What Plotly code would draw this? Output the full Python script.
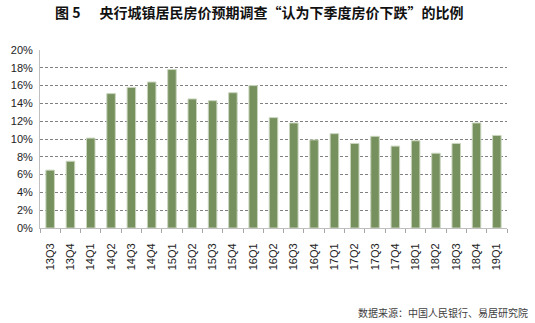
import plotly.graph_objects as go

quarters = ["13Q3", "13Q4", "14Q1", "14Q2", "14Q3", "14Q4", "15Q1", "15Q2",
            "15Q3", "15Q4", "16Q1", "16Q2", "16Q3", "16Q4", "17Q1", "17Q2",
            "17Q3", "17Q4", "18Q1", "18Q2", "18Q3", "18Q4", "19Q1"]
share_expect_fall = [6.5, 7.5, 10.1, 15.1, 15.8, 16.4, 17.8, 14.5,
                     14.3, 15.2, 16.0, 12.4, 11.8, 9.9, 10.6, 9.5,
                     10.3, 9.2, 9.8, 8.4, 9.5, 11.8, 10.4]
y_ticks = list(range(0, 21, 2))

title_text = "图 5      央行城镇居民房价预期调查“认为下季度房价下跌”的比例"
source_text = "数据来源：中国人民银行、易居研究院"

fig = go.Figure(
    go.Bar(
        x=quarters,
        y=share_expect_fall,
        marker=dict(color="#76905E", line=dict(color="#C9D5BD", width=1)),
    )
)

fig.update_layout(
    width=535,
    height=323,
    autosize=False,
    margin=dict(l=40, r=28, t=50, b=95),
    paper_bgcolor="white",
    plot_bgcolor="white",
    bargap=0.58,
    showlegend=False,
    font=dict(family="Liberation Sans, Arial", size=11, color="#222222"),
    annotations=[
        dict(
            text="<b>" + title_text + "</b>",
            xref="paper", yref="paper", x=0.47, y=1.0, yshift=38,
            xanchor="center", yanchor="middle", showarrow=False,
            font=dict(family="Noto Sans CJK SC", size=14, color="#111111"),
        ),
        dict(
            text=source_text,
            xref="paper", yref="paper", x=1.0, xshift=23, y=0, yshift=-84,
            xanchor="right", yanchor="middle", showarrow=False,
            font=dict(family="Noto Sans CJK SC", size=10, color="#404040"),
        ),
    ],
)

fig.update_xaxes(
    type="category",
    tickangle=-90,
    showline=True,
    linecolor="#BFBFBF",
    linewidth=1,
    ticks="outside",
    tickson="boundaries",
    ticklen=4,
    tickcolor="#A6A6A6",
    showgrid=False,
    ticklabelstandoff=10,
    tickfont=dict(family="Liberation Sans, Arial", size=11, color="#222222"),
)

fig.update_yaxes(
    range=[0, 20],
    tickvals=y_ticks,
    ticktext=[f"{v}%" for v in y_ticks],
    showline=True,
    linecolor="#BFBFBF",
    linewidth=1,
    ticks="",
    showgrid=True,
    gridcolor="#808080",
    gridwidth=1,
    griddash="3px,2px",
    zeroline=False,
    ticklabelstandoff=4,
    tickfont=dict(family="Liberation Sans, Arial", size=11, color="#222222"),
)

fig.write_html("out.html")
